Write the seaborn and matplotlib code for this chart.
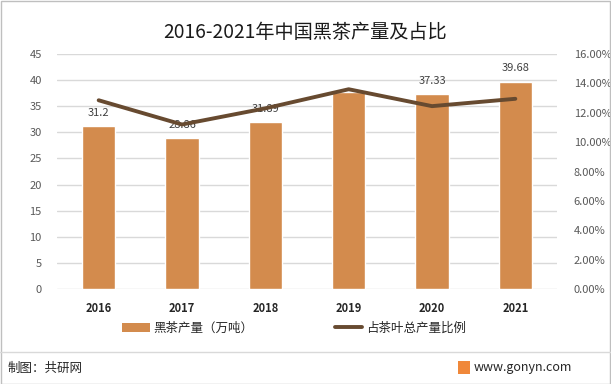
import matplotlib
matplotlib.use("Agg")
import matplotlib.pyplot as plt
import seaborn as sns
import pandas as pd
from matplotlib.patches import Patch, Rectangle
from matplotlib.lines import Line2D

years = ["2016", "2017", "2018", "2019", "2020", "2021"]
output = [31.2, 28.86, 31.89, 37.8, 37.33, 39.68]
output_labels = ["31.2", "28.86", "31.89", "", "37.33", "39.68"]
share = [12.85, 11.2, 12.3, 13.6, 12.45, 12.95]
left_ticks = [0, 5, 10, 15, 20, 25, 30, 35, 40, 45]
right_ticks = [0, 2, 4, 6, 8, 10, 12, 14, 16]

sns.set_theme(style="white")
plt.rcParams['font.family'] = ['Noto Sans CJK SC', 'DejaVu Sans']

BAR = "#D38B4D"
LINE = "#674A30"
GRID = "#D9D9D9"
TXT = "#404040"

df = pd.DataFrame({"year": years, "output": output, "share": share})

fig = plt.figure(figsize=(6.11, 3.84), dpi=100)
ax = fig.add_axes([57/611, 1-289/384, 500/611, 235/384])
sns.barplot(data=df, x="year", y="output", color=BAR, width=0.4, ax=ax,
            saturation=1, zorder=2)
ax.set_ylim(0, 45)
ax.set_xlim(-0.5, 5.5)
ax.set_yticks(left_ticks)
ax.grid(axis="y", color=GRID, linewidth=1, zorder=0)
ax.set_axisbelow(True)
for s in ax.spines.values():
    s.set_visible(False)
ax.set_xlabel("")
ax.set_ylabel("")
ax.tick_params(axis="y", length=0, pad=11, labelsize=8, labelcolor="#595959")
ax.tick_params(axis="x", length=0, pad=9, labelsize=8)
for lab in ax.get_xticklabels():
    lab.set_fontweight("bold")
    lab.set_color("#262626")

for p, lab in zip(ax.patches, output_labels):
    if lab:
        ax.annotate(lab, (p.get_x() + p.get_width()/2, p.get_height()),
                    xytext=(0, 6), textcoords="offset points", ha="center",
                    va="bottom", fontsize=8, color=TXT)

ax2 = ax.twinx()
sns.pointplot(data=df, x="year", y="share", color=LINE, markers="",
              linewidth=2.8, ax=ax2, errorbar=None)
ax2.set_ylim(0, 16)
ax2.set_xlim(-0.5, 5.5)
ax2.set_yticks(right_ticks)
ax2.set_yticklabels([f"{v:.2f}%" for v in right_ticks])
for s in ax2.spines.values():
    s.set_visible(False)
ax2.set_ylabel("")
ax2.set_xlabel("")
ax2.tick_params(axis="y", length=0, pad=12, labelsize=8, labelcolor="#595959")

fig.text(0.5, 1-33/384, "2016-2021年中国黑茶产量及占比", ha="center", va="center",
         fontsize=13.8, color="#1a1a1a")

handles = [Patch(facecolor=BAR, edgecolor="none"),
           Line2D([0], [0], color=LINE, linewidth=2.8)]
fig.legend(handles, ["黑茶产量（万吨）", "占茶叶总产量比例"], ncol=2,
           loc="center", bbox_to_anchor=(0.481, 1-328/384), frameon=False,
           fontsize=9, columnspacing=6.5, handlelength=2.2, handletextpad=0.3,
           labelcolor="#262626")

fig.add_artist(Line2D([0, 1], [1-352/384, 1-352/384], color="#D9D9D9",
                      linewidth=1, transform=fig.transFigure))
fig.text(8/611, 1-368/384, "制图：共研网", ha="left", va="center", fontsize=9,
         color="#262626")
fig.add_artist(Rectangle((458/611, 1-374/384), 12/611, 13/384,
                         transform=fig.transFigure, facecolor="#F0883A",
                         edgecolor="none"))
fig.text(474/611, 1-368/384, "www.gonyn.com", ha="left", va="center",
         fontsize=9, color="#262626")
fig.add_artist(Rectangle((0.5/611, 0.5/384), 609.5/611, 382.5/384,
                         transform=fig.transFigure, fill=False,
                         edgecolor="#BFBFBF", linewidth=1))

fig.savefig("out.png", dpi=100)
